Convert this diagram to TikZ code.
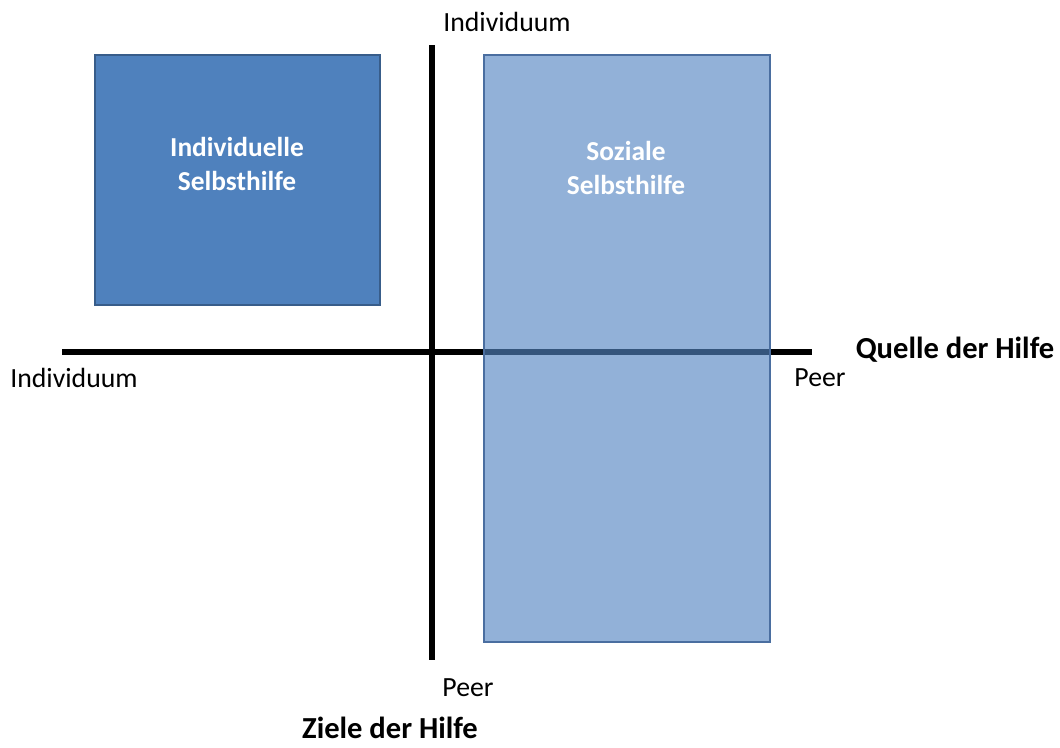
\documentclass[tikz,border=0pt]{standalone}
\usepackage{fontspec}
\setmainfont{Carlito}
\usetikzlibrary{positioning}
\definecolor{darkfill}{RGB}{79,129,189}
\definecolor{darkedge}{RGB}{56,93,138}
\definecolor{lightfill}{RGB}{84,133,194}
\definecolor{lightedge}{RGB}{74,110,160}
\tikzset{
  axisline/.style={line width=3pt,black},
  axislab/.style={inner sep=0pt,font=\fontsize{15.8}{19}\selectfont},
  axistitle/.style={inner sep=0pt,font=\fontsize{17.4}{21}\selectfont\bfseries},
  quadbox/.style={draw,line width=1.1pt,inner sep=0pt},
  boxtext/.style={align=center,text=white,inner sep=0pt,
    font=\fontsize{15.6}{19.8}\selectfont\bfseries}
}

\begin{document}
\begin{tikzpicture}[x=0.02cm,y=-0.02cm]
  \useasboundingbox (0,0) rectangle (1060,747);
  % axes
  \coordinate (hl) at (62,352);
  \coordinate (hr) at (812,352);
  \coordinate (vt) at (432,45);
  \coordinate (vb) at (432,660);
  \draw[axisline] (hl)--(hr);
  \draw[axisline] (vt)--(vb);
  % quadrant boxes
  \node[quadbox,fill=darkfill,draw=darkedge,minimum width=5.7cm,minimum height=5cm]
    (indiv) at (237.5,180) {};
  \node[quadbox,fill=lightfill,fill opacity=0.64,draw=lightedge,
    minimum width=5.72cm,minimum height=11.74cm] (sozial) at (627,348.5) {};
  \node[boxtext] (indivtxt) at (237,164) {Individuelle\\Selbsthilfe};
  \node[boxtext] (sozialtxt) at (626,168) {Soziale\\Selbsthilfe};
  % axis labels
  \foreach \x/\y/\t/\n in {507/22/Individuum/topl,74/378/Individuum/leftl,
      820/378/Peer/rightl,468/688/Peer/botl}
    \node[axislab] (\n) at (\x,\y) {\t};
  \node[axistitle] (quelle) at (955,350) {Quelle der Hilfe};
  \node[axistitle] (ziele) at (390,728) {Ziele der Hilfe};
\end{tikzpicture}
\end{document}
